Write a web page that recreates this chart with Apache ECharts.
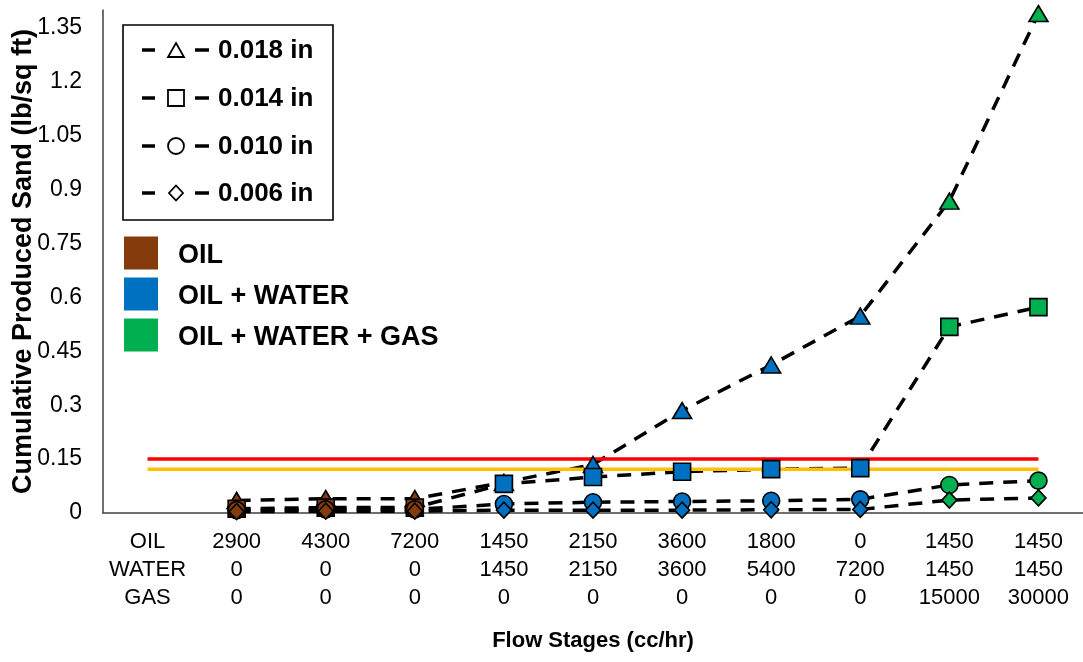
<!DOCTYPE html>
<html>
<head>
<meta charset="utf-8">
<script src="https://cdn.jsdelivr.net/npm/echarts@6/dist/echarts.min.js"></script>
<style>
  html, body { margin: 0; padding: 0; background: #fff; }
  #chart { width: 1083px; height: 662px; }
</style>
</head>
<body>
<div id="chart"></div>
<script>
// Flow rates (cc/hr) for each stage
const rowLabels = ['OIL', 'WATER', 'GAS'];
const oilRates   = [2900, 4300, 7200, 1450, 2150, 3600, 1800, 0, 1450, 1450];
const waterRates = [0, 0, 0, 1450, 2150, 3600, 5400, 7200, 1450, 1450];
const gasRates   = [0, 0, 0, 0, 0, 0, 0, 0, 15000, 30000];

// Phase of each stage: 0 = oil, 1 = oil + water, 2 = oil + water + gas
const stagePhase = [0, 0, 0, 1, 1, 1, 1, 1, 2, 2];
const phaseNames = ['OIL', 'OIL + WATER', 'OIL + WATER + GAS'];
const phaseColors = ['#843C0C', '#0070C0', '#00B050'];

// Cumulative produced sand (lb/sq ft) by screen slot size
const sand018 = [0.035, 0.04, 0.04, 0.085, 0.135, 0.285, 0.412, 0.548, 0.868, 1.39];
const sand014 = [0.012, 0.015, 0.015, 0.081, 0.10, 0.115, 0.122, 0.125, 0.518, 0.573];
const sand010 = [0.008, 0.01, 0.01, 0.025, 0.03, 0.032, 0.034, 0.038, 0.078, 0.09];
const sand006 = [0.004, 0.005, 0.005, 0.008, 0.008, 0.008, 0.009, 0.01, 0.036, 0.042];

// Reference limits
const redLimit = 0.15;
const yellowLimit = 0.122;

const seriesNames = ['0.018 in', '0.014 in', '0.010 in', '0.006 in'];
const yTicks = { min: 0, max: 1.4, step: 0.15 };

// Category labels: row headings first, then one stacked label per stage
const categories = [rowLabels.join('\n')].concat(
  oilRates.map((o, i) => [o, waterRates[i], gasRates[i]].join('\n'))
);

const FONT = '"Liberation Sans", Arial, sans-serif';

function markerSeries(name, values, symbol, size) {
  return {
    name: name,
    type: 'line',
    data: [null].concat(values),
    symbol: symbol,
    symbolSize: size,
    showAllSymbol: true,
    lineStyle: { color: '#000', width: 3.5, type: [14, 10], cap: 'butt' },
    itemStyle: {
      color: p => phaseColors[stagePhase[p.dataIndex - 1]],
      borderColor: '#000',
      borderWidth: 1.6
    },
    emphasis: { disabled: true },
    animation: false
  };
}

function limitSeries(value, color) {
  return {
    type: 'line',
    data: categories.map(() => value),
    symbol: 'none',
    lineStyle: { color: color, width: 3.5 },
    emphasis: { disabled: true },
    animation: false,
    z: 3
  };
}

// Legend drawn as graphic elements: slot sizes (boxed) and flow phases
const legendGraphics = [];
legendGraphics.push({
  type: 'rect',
  shape: { x: 123, y: 25, width: 210, height: 195 },
  style: { fill: '#fff', stroke: '#000', lineWidth: 1.6 },
  z: 10
});
const legendRows = [50, 98, 146, 193];
const cx = 176;
legendRows.forEach((y, i) => {
  legendGraphics.push(
    { type: 'rect', shape: { x: 142, y: y - 1.75, width: 13, height: 3.5 }, style: { fill: '#000' }, z: 11 },
    { type: 'rect', shape: { x: 195, y: y - 1.75, width: 14, height: 3.5 }, style: { fill: '#000' }, z: 11 }
  );
  const sym = { style: { fill: '#fff', stroke: '#000', lineWidth: 1.8 }, z: 11 };
  if (i === 0) {
    sym.type = 'polygon';
    sym.shape = { points: [[cx, y - 7], [cx + 8, y + 7], [cx - 8, y + 7]] };
  } else if (i === 1) {
    sym.type = 'rect';
    sym.shape = { x: cx - 8, y: y - 8, width: 16, height: 16 };
  } else if (i === 2) {
    sym.type = 'circle';
    sym.shape = { cx: cx, cy: y, r: 8 };
  } else {
    sym.type = 'polygon';
    sym.shape = { points: [[cx, y - 7.5], [cx + 7, y], [cx, y + 7.5], [cx - 7, y]] };
  }
  legendGraphics.push(sym);
  legendGraphics.push({
    type: 'text',
    style: {
      x: 218, y: y + 1, text: seriesNames[i], fill: '#000',
      fontSize: 26, fontWeight: 'bold', fontFamily: FONT,
      align: 'left', verticalAlign: 'middle'
    },
    z: 11
  });
});
const phaseRows = [253, 294, 335];
phaseRows.forEach((y, i) => {
  legendGraphics.push({
    type: 'rect',
    shape: { x: 124, y: y - 16.5, width: 34, height: 33 },
    style: { fill: phaseColors[i] },
    z: 10
  });
  legendGraphics.push({
    type: 'text',
    style: {
      x: 178, y: y + 3, text: phaseNames[i], fill: '#000',
      fontSize: 27, fontWeight: 'bold', fontFamily: FONT,
      align: 'left', verticalAlign: 'middle'
    },
    z: 10
  });
});

const chart = echarts.init(document.getElementById('chart'), null, { renderer: 'canvas' });
chart.setOption({
  backgroundColor: '#fff',
  animation: false,
  grid: { left: 103, right: 0, top: 10, bottom: 149, containLabel: false, outerBoundsMode: 'none' },
  xAxis: {
    type: 'category',
    data: categories,
    boundaryGap: true,
    name: 'Flow Stages (cc/hr)',
    nameLocation: 'middle',
    nameGap: 117,
    nameMoveOverlap: false,
    nameTextStyle: { fontSize: 22, fontWeight: 'bold', fontFamily: FONT, color: '#000' },
    axisLine: { lineStyle: { color: '#404040', width: 1.5 } },
    axisTick: { show: false },
    axisLabel: {
      interval: 0, fontSize: 22, lineHeight: 28, margin: 15,
      color: '#000', fontFamily: FONT
    },
    splitLine: { show: false }
  },
  yAxis: {
    type: 'value',
    min: yTicks.min,
    max: yTicks.max,
    interval: yTicks.step,
    name: 'Cumulative Produced Sand (lb/sq ft)',
    nameLocation: 'middle',
    nameGap: 66,
    nameMoveOverlap: false,
    nameTextStyle: { fontSize: 27, fontWeight: 'bold', fontFamily: FONT, color: '#000' },
    axisLine: { show: true, lineStyle: { color: '#404040', width: 1.5 } },
    axisTick: { show: false },
    splitLine: { show: false },
    axisLabel: {
      showMaxLabel: false, margin: 21, fontSize: 23, color: '#000', fontFamily: FONT,
      formatter: v => String(+v.toFixed(2))
    }
  },
  series: [
    markerSeries(seriesNames[0], sand018, 'triangle', [19, 16]),
    markerSeries(seriesNames[1], sand014, 'rect', 17),
    markerSeries(seriesNames[2], sand010, 'circle', 17),
    markerSeries(seriesNames[3], sand006, 'diamond', [15, 16]),
    limitSeries(redLimit, '#FF0000'),
    limitSeries(yellowLimit, '#FFC000')
  ],
  graphic: legendGraphics
});
</script>
</body>
</html>
